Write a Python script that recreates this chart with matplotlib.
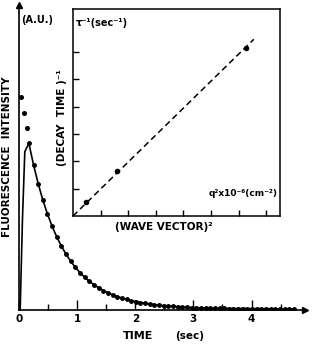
import matplotlib
matplotlib.use("Agg")
import matplotlib.pyplot as plt

# decay curve (sec, arbitrary units; 1.0 = peak)
t_spike = [0.03, 0.09, 0.14]
i_spike = [1.28, 1.18, 1.09]
t_rise = [0.02, 0.06, 0.10, 0.17]
i_rise = [0.0, 0.55, 0.95, 1.0]
t_decay = [0.17 + 0.08 * k for k in range(58)]
i_decay = [1.000, 0.871, 0.758, 0.660, 0.576, 0.502, 0.438, 0.383, 0.334, 0.292,
           0.256, 0.224, 0.196, 0.172, 0.152, 0.133, 0.117, 0.104, 0.091, 0.081,
           0.072, 0.064, 0.056, 0.050, 0.045, 0.040, 0.036, 0.032, 0.029, 0.026,
           0.024, 0.022, 0.020, 0.018, 0.016, 0.015, 0.014, 0.013, 0.012, 0.011,
           0.010, 0.010, 0.010, 0.009, 0.009, 0.009, 0.009, 0.008, 0.008, 0.008,
           0.008, 0.008, 0.007, 0.007, 0.007, 0.007, 0.007, 0.007]

# inset: inverse decay time vs q^2
q2 = [0.47, 1.59, 6.27]
inv_tau = [0.51, 1.65, 6.15]
fit_x = [0.0, 6.55]
fit_y = [0.0, 6.47]

bold = dict(fontweight='bold', family='DejaVu Sans', color='black')

fig = plt.figure(figsize=(3.13, 3.47), dpi=100)
ax = fig.add_axes([19/313, 1-310/347, 286/313, 305/347])
ax.plot(t_rise, i_rise, color='black', lw=1.2)
ax.plot(t_decay, i_decay, color='black', lw=1.2, marker='o', ms=2.5)
ax.plot(t_spike, i_spike, 'o', color='black', ms=2.6)
ax.set_xlim(0, 4.92)
ax.set_ylim(0, 1.83)
for s in ['top', 'right']:
    ax.spines[s].set_visible(False)
ax.spines['left'].set_linewidth(1.2)
ax.spines['bottom'].set_linewidth(1.2)
ax.plot(1, 0, '>k', ms=4, transform=ax.transAxes, clip_on=False)
ax.plot(0, 1, '^k', ms=4, transform=ax.transAxes, clip_on=False)
ax.set_yticks([])
ax.set_xticks([0, 1, 2, 3, 4])
ax.set_xticks([0.5, 1.5, 2.5, 3.5, 4.5], minor=True)
ax.set_xticklabels(['0', '1', '2', '3', '4'], fontsize=7.5, **bold)
ax.tick_params(axis='x', which='major', direction='in', length=7, width=1, pad=3)
ax.tick_params(axis='x', which='minor', direction='in', length=4, width=1)
fig.text(123/313, 1-336/347, 'TIME', fontsize=8, va='center', **bold)
fig.text(175/313, 1-336/347, '(sec)', fontsize=7.5, va='center', **bold)
fig.text(7/313, 1-157/347, 'FLUORESCENCE  INTENSITY', fontsize=7.5, rotation=90,
         ha='center', va='center', **bold)
fig.text(21/313, 1-20/347, '(A.U.)', fontsize=7, va='center', **bold)

ins = fig.add_axes([73/313, 1-216/347, 207/313, 207/347])
ins.plot(fit_x, fit_y, color='black', lw=1.1, ls=(0, (4, 2.5)))
ins.plot(q2, inv_tau, 'o', color='black', ms=3)
ins.set_xlim(0, 7.5)
ins.set_ylim(0, 7.58)
ins.set_xticks(range(1, 8))
ins.set_yticks(range(1, 7))
ins.set_xticklabels([])
ins.set_yticklabels([])
ins.tick_params(direction='in', length=4, width=1)
for s in ins.spines.values():
    s.set_linewidth(1.1)
ins.text(0.015, 0.955, 'τ⁻¹(sec⁻¹)', transform=ins.transAxes,
         fontsize=7, va='top', ha='left', **bold)
ins.text(0.99, 0.11, 'q²x10⁻⁶(cm⁻²)', transform=ins.transAxes,
         fontsize=6.5, va='center', ha='right', **bold)
fig.text(164/313, 1-227/347, '(WAVE VECTOR)²', fontsize=7.5, ha='center',
         va='center', **bold)
fig.text(62/313, 1-118/347, '(DECAY  TIME )⁻¹', fontsize=7.5, rotation=90,
         ha='center', va='center', **bold)

fig.savefig('out.png', dpi=100)
